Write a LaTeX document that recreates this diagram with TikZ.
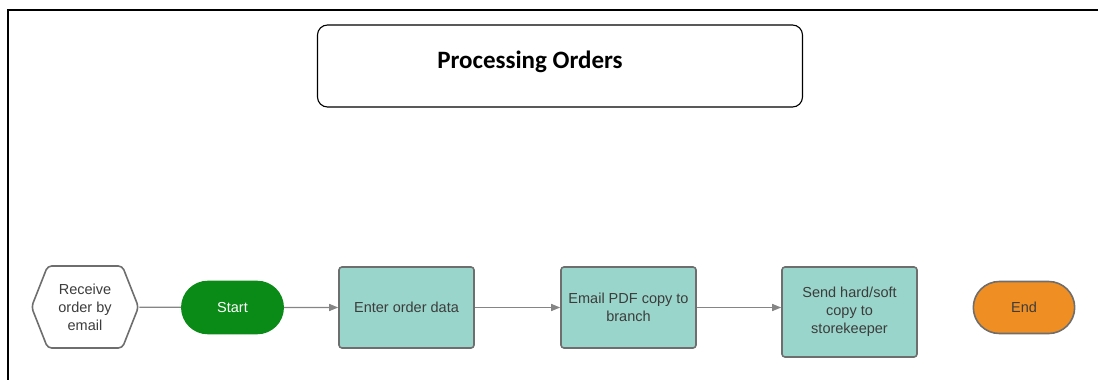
\documentclass[tikz,border=0pt]{standalone}
\usepackage{fontspec}
\setmainfont{Liberation Sans}
\newfontfamily\headfont{Carlito}
\usetikzlibrary{shapes.misc,shapes.symbols,arrows.meta}

\definecolor{taskfill}{HTML}{99D5CA}
\definecolor{startfill}{HTML}{0A8A17}
\definecolor{endfill}{HTML}{EF8E22}
\definecolor{edgegray}{HTML}{6E6E6E}
\definecolor{linkgray}{HTML}{858585}
\definecolor{labelgray}{HTML}{3C3C3C}

\begin{document}
\begin{tikzpicture} [
  x=1pt, y=-1pt,
  font=\fontsize{14.5}{18}\selectfont,
  task/.style={rectangle,draw=edgegray,line width=1.6pt,fill=taskfill,
    rounded corners=3pt,minimum width=135pt,align=center,text=labelgray},
  terminal/.style={rounded rectangle,line width=1.6pt,
    minimum width=108pt,minimum height=52pt},
  event/.style={signal,signal to=east and west,signal pointer angle=137,
    draw=edgegray,line width=1.6pt,rounded corners=4pt,fill=white,
    minimum width=107pt,minimum height=82pt,inner sep=0pt,
    align=center,text=labelgray},
  link/.style={draw=linkgray,line width=1.3pt},
  flow/.style={link,-{Triangle[length=9pt,width=7pt]}}]

\useasboundingbox (0,0) rectangle (1098,380);
\draw[line width=2pt] (8,380) -- (8,10) -- (1098,10);

\node[draw,line width=1.1pt,rounded corners=10pt,
  minimum width=485pt,minimum height=82pt] (titlebox) at (560,66) {};
\node[anchor=base,font=\headfont\bfseries\fontsize{25}{30}\selectfont]
  (title) at (530,68) {Processing Orders};

\node[event] (receive) at (85,307) {Receive\\order by\\email};
\node[terminal,fill=startfill,draw=startfill,text=white] (start) at (232.5,307.5) {Start};
\node[task,minimum height=81pt] (enter) at (406.5,307.5) {Enter order data};
\node[task,minimum height=81pt] (email) at (628.5,307.5) {Email PDF copy to\\branch};
\node[task,minimum height=90pt] (send) at (849.5,312) {Send hard/soft\\copy to\\storekeeper};
\node[terminal,fill=endfill,draw=edgegray,text=labelgray] (end) at (1024,307.5) {End};

\draw[link] (receive) -- (start);
\draw[flow] (start) -- (enter);
\draw[flow] (enter) -- (email);
\draw[flow] (email.east) -- (email.east -| send.west);
\end{tikzpicture}
\end{document}
